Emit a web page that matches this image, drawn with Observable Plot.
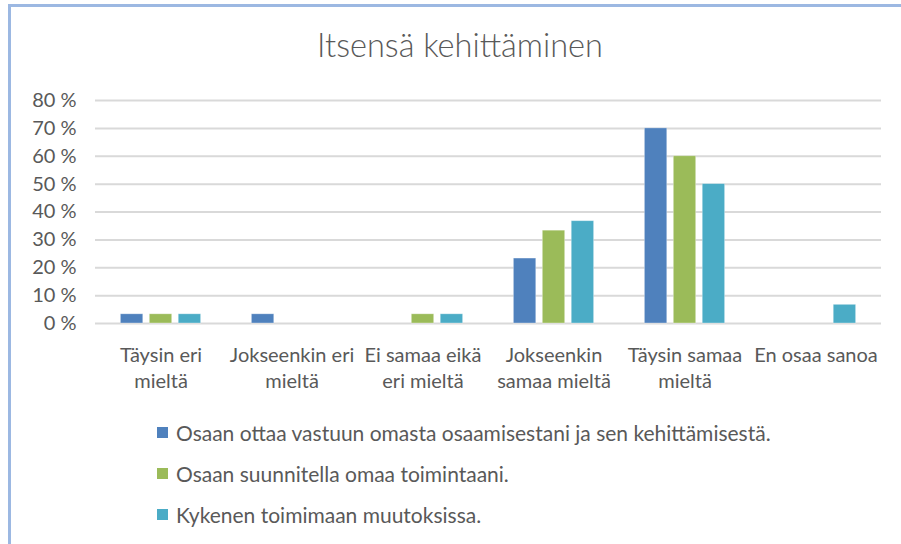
<!DOCTYPE html>
<html>
<head>
<meta charset="utf-8">
<script src="https://cdn.jsdelivr.net/npm/d3@7"></script>
<script src="https://cdn.jsdelivr.net/npm/@observablehq/plot@0.6"></script>
<style>
  html, body { margin: 0; padding: 0; background: #fff; }
  body { width: 901px; height: 544px; overflow: hidden; position: relative; font-family: Lato, "Open Sans", sans-serif; color: #595959; }
  #frame { position: absolute; left: 8px; top: 4px; width: 920px; height: 560px; border-left: 3px solid #9cb8e2; border-top: 3px solid #9cb8e2; box-sizing: border-box; }
  #title { position: absolute; left: 0; top: 25px; width: 920px; text-align: center; font-size: 32.5px; font-weight: 300; color: #595959; }
  #chart { position: absolute; left: 0; top: 80px; }
  #legend { position: absolute; left: 157px; top: 419px; }
  .item { display: flex; align-items: center; height: 26px; margin-bottom: 15px; font-size: 21px; }
  .sw { width: 11px; height: 11px; margin-right: 8px; }
</style>
</head>
<body>
<div id="frame"></div>
<div id="title">Itsensä kehittäminen</div>
<div id="chart"></div>
<div id="legend"></div>
<script>
const categories = ["Täysin eri mieltä", "Jokseenkin eri mieltä", "Ei samaa eikä eri mieltä", "Jokseenkin samaa mieltä", "Täysin samaa mieltä", "En osaa sanoa"];
const categoryLabels = ["Täysin eri\nmieltä", "Jokseenkin eri\nmieltä", "Ei samaa eikä\neri mieltä", "Jokseenkin\nsamaa mieltä", "Täysin samaa\nmieltä", "En osaa sanoa"];
const seriesNames = ["Osaan ottaa vastuun omasta osaamisestani ja sen kehittämisestä.", "Osaan suunnitella omaa toimintaani.", "Kykenen toimimaan muutoksissa."];
const vastuu = [3.3, 3.3, 0, 23.3, 70, 0];
const suunnitella = [3.3, 0, 3.3, 33.3, 60, 0];
const muutoksissa = [3.3, 0, 3.3, 36.7, 50, 6.7];
const colors = ["#4F81BD", "#9BBB59", "#4BACC6"];
const yTicks = [0, 10, 20, 30, 40, 50, 60, 70, 80];

const seriesValues = [vastuu, suunnitella, muutoksissa];
const data = categories.flatMap((c, i) => seriesNames.map((s, j) => ({category: c, series: s, value: seriesValues[j][i]})));

const chart = Plot.plot({
  width: 901,
  height: 320,
  marginTop: 20,
  marginBottom: 77,
  marginLeft: 92,
  marginRight: 18,
  style: {fontFamily: "Lato, 'Open Sans', sans-serif", fontSize: "20px", color: "#595959", background: "transparent", overflow: "visible"},
  fx: {domain: categories, padding: 0, axis: null},
  x: {domain: seriesNames, paddingInner: 0.226, paddingOuter: 0.877, round: false, axis: null},
  y: {domain: [0, 80], axis: null},
  color: {domain: seriesNames, range: colors},
  marks: [
    Plot.gridY(yTicks, {stroke: "#d9d9d9", strokeOpacity: 1, strokeWidth: 2}),
    Plot.axisY(yTicks, {tickSize: 0, tickPadding: 19, tickFormat: d => `${d} %`, label: null, fontSize: 20}),
    Plot.barY(data.filter(d => d.value > 0), {fx: "category", x: "series", y: "value", fill: "series", stroke: "white", strokeOpacity: 0.4, strokeWidth: 0.8}),
    Plot.axisFx({anchor: "bottom", tickSize: 0, tickPadding: 20, label: null, fontSize: 20, lineHeight: 1.3,
      tickFormat: d => categoryLabels[categories.indexOf(d)]})
  ]
});
document.getElementById("chart").appendChild(chart);

const legend = document.getElementById("legend");
seriesNames.forEach((s, i) => {
  const item = document.createElement("div");
  item.className = "item";
  const sw = document.createElement("span");
  sw.className = "sw";
  sw.style.background = colors[i];
  const t = document.createElement("span");
  t.textContent = s;
  item.appendChild(sw);
  item.appendChild(t);
  legend.appendChild(item);
});
</script>
</body>
</html>
